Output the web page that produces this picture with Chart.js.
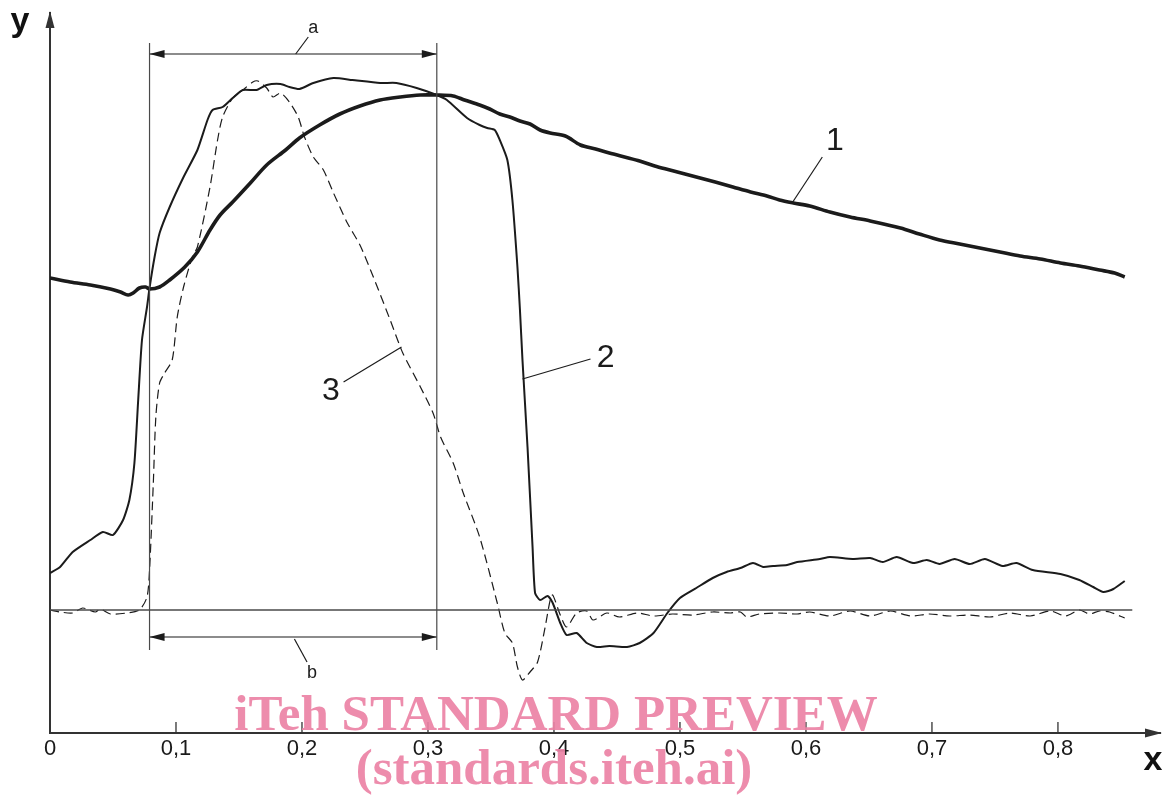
<!DOCTYPE html>
<html>
<head>
  <meta charset="UTF-8" />
  <title>Curves 1, 2, 3 with intervals a and b</title>
  <style>
    html, body { margin: 0; padding: 0; background: #fff; }
    #wrap { width: 1170px; height: 796px; }
  </style>
</head>
<body>
  <div id="wrap"><canvas id="chart"></canvas></div>
  <script src="https://cdn.jsdelivr.net/npm/chart.js"></script>
  <script>
    // x tick values and their printed labels (decimal comma)
    const xTicks = [0, 0.1, 0.2, 0.3, 0.4, 0.5, 0.6, 0.7, 0.8];
    const xTickLabels = ['0', '0,1', '0,2', '0,3', '0,4', '0,5', '0,6', '0,7', '0,8'];

    // curve 1 (thick solid)
    const curve1X = [0, 0.016, 0.032, 0.048, 0.056, 0.062, 0.066, 0.071, 0.076, 0.079, 0.087, 0.095, 0.107, 0.117, 0.127, 0.135, 0.145, 0.159, 0.172, 0.187, 0.198, 0.214, 0.230, 0.246, 0.262, 0.278, 0.294, 0.307, 0.320, 0.329, 0.341, 0.349, 0.357, 0.365, 0.373, 0.381, 0.389, 0.397, 0.409, 0.421, 0.433, 0.444, 0.456, 0.468, 0.480, 0.492, 0.504, 0.516, 0.528, 0.542, 0.556, 0.569, 0.579, 0.590, 0.603, 0.619, 0.635, 0.651, 0.675, 0.690, 0.706, 0.722, 0.738, 0.754, 0.770, 0.786, 0.802, 0.817, 0.833, 0.845, 0.853];
    const curve1Y = [3.32, 3.28, 3.25, 3.21, 3.18, 3.15, 3.17, 3.22, 3.23, 3.21, 3.23, 3.30, 3.43, 3.58, 3.80, 3.95, 4.08, 4.27, 4.45, 4.60, 4.72, 4.85, 4.96, 5.04, 5.10, 5.13, 5.15, 5.15, 5.14, 5.10, 5.05, 5.01, 4.96, 4.93, 4.89, 4.86, 4.80, 4.77, 4.74, 4.65, 4.61, 4.57, 4.53, 4.49, 4.44, 4.40, 4.36, 4.32, 4.28, 4.23, 4.18, 4.14, 4.10, 4.07, 4.04, 3.98, 3.93, 3.89, 3.82, 3.76, 3.70, 3.66, 3.62, 3.58, 3.54, 3.51, 3.47, 3.44, 3.40, 3.37, 3.33];

    // curve 2 (thin solid)
    const curve2X = [0, 0.008, 0.018, 0.032, 0.042, 0.050, 0.058, 0.063, 0.067, 0.070, 0.073, 0.077, 0.079, 0.083, 0.087, 0.095, 0.106, 0.117, 0.125, 0.129, 0.137, 0.145, 0.153, 0.164, 0.172, 0.183, 0.190, 0.198, 0.209, 0.225, 0.240, 0.262, 0.275, 0.291, 0.307, 0.315, 0.331, 0.341, 0.347, 0.353, 0.357, 0.363, 0.367, 0.371, 0.373, 0.375, 0.379, 0.383, 0.385, 0.389, 0.395, 0.399, 0.405, 0.410, 0.418, 0.426, 0.434, 0.444, 0.458, 0.468, 0.479, 0.490, 0.500, 0.513, 0.526, 0.537, 0.548, 0.558, 0.566, 0.574, 0.585, 0.593, 0.611, 0.619, 0.637, 0.651, 0.661, 0.672, 0.685, 0.696, 0.706, 0.718, 0.730, 0.742, 0.756, 0.767, 0.780, 0.802, 0.817, 0.828, 0.836, 0.844, 0.853];
    const curve2Y = [0.37, 0.43, 0.58, 0.70, 0.78, 0.75, 0.90, 1.10, 1.47, 2.10, 2.70, 3.03, 3.22, 3.53, 3.77, 4.03, 4.33, 4.60, 4.90, 5.00, 5.03, 5.12, 5.20, 5.20, 5.25, 5.26, 5.23, 5.21, 5.27, 5.32, 5.30, 5.27, 5.27, 5.22, 5.15, 5.10, 4.92, 4.85, 4.82, 4.80, 4.70, 4.50, 4.10, 3.43, 3.00, 2.50, 1.63, 0.63, 0.17, 0.10, 0.14, 0.07, -0.13, -0.25, -0.23, -0.33, -0.37, -0.36, -0.37, -0.33, -0.23, -0.03, 0.12, 0.22, 0.32, 0.38, 0.42, 0.47, 0.43, 0.44, 0.45, 0.48, 0.51, 0.53, 0.51, 0.52, 0.48, 0.53, 0.47, 0.50, 0.46, 0.51, 0.46, 0.51, 0.44, 0.47, 0.40, 0.36, 0.30, 0.23, 0.18, 0.21, 0.29];

    // curve 3 (dashed)
    const curve3X = [0, 0.008, 0.018, 0.026, 0.036, 0.040, 0.048, 0.061, 0.071, 0.077, 0.079, 0.082, 0.084, 0.087, 0.091, 0.097, 0.101, 0.106, 0.113, 0.117, 0.127, 0.133, 0.137, 0.145, 0.153, 0.161, 0.165, 0.172, 0.177, 0.183, 0.190, 0.197, 0.202, 0.209, 0.217, 0.225, 0.236, 0.246, 0.256, 0.270, 0.280, 0.294, 0.304, 0.310, 0.320, 0.328, 0.341, 0.355, 0.361, 0.367, 0.371, 0.375, 0.381, 0.387, 0.393, 0.397, 0.399, 0.405, 0.410, 0.418, 0.426, 0.431, 0.442, 0.452, 0.466, 0.479, 0.494, 0.510, 0.526, 0.540, 0.548, 0.553, 0.563, 0.579, 0.593, 0.603, 0.619, 0.635, 0.651, 0.667, 0.683, 0.698, 0.714, 0.730, 0.746, 0.762, 0.778, 0.794, 0.806, 0.817, 0.825, 0.833, 0.841, 0.853];
    const curve3Y = [0, -0.02, -0.03, 0.02, -0.02, 0.01, -0.04, -0.03, 0, 0.13, 0.40, 1.27, 1.93, 2.27, 2.37, 2.50, 2.93, 3.23, 3.53, 3.63, 4.23, 4.70, 4.93, 5.12, 5.20, 5.28, 5.29, 5.22, 5.13, 5.17, 5.08, 4.93, 4.73, 4.53, 4.40, 4.17, 3.87, 3.65, 3.35, 2.90, 2.57, 2.23, 1.97, 1.73, 1.47, 1.17, 0.73, 0.07, -0.23, -0.33, -0.57, -0.70, -0.62, -0.52, -0.17, 0.10, 0.15, -0.05, -0.17, -0.03, -0.01, -0.10, -0.03, -0.07, -0.03, -0.06, -0.04, -0.05, -0.02, -0.03, -0.02, -0.07, -0.04, -0.03, -0.04, -0.02, -0.06, -0.01, -0.06, -0.01, -0.06, -0.04, -0.06, -0.05, -0.07, -0.03, -0.06, -0.01, -0.06, 0, -0.04, -0.01, -0.02, -0.08];

    // reference line and the two marked intervals
    const zeroLineEnd = 0.859;
    const intervalStart = 0.079;
    const intervalEnd = 0.307;
    const markerTop = 5.67;
    const markerBottom = -0.40;
    const intervalA = 5.56;
    const intervalB = -0.27;

    const pts = (xs, ys) => xs.map((v, i) => ({ x: v, y: ys[i] }));
    const ink = '#1b1b1b';
    const guide = '#4a4a4a';

    const overlay = {
      id: 'overlay',
      afterDatasetsDraw(chart) {
        const { ctx, chartArea: a, scales: { x, y } } = chart;
        const X = v => x.getPixelForValue(v);
        const Y = v => y.getPixelForValue(v);
        ctx.save();

        // axis arrow heads
        ctx.fillStyle = '#333';
        ctx.beginPath();
        ctx.moveTo(a.left, a.top - 2);
        ctx.lineTo(a.left - 4.5, a.top + 15);
        ctx.lineTo(a.left + 4.5, a.top + 15);
        ctx.closePath();
        ctx.fill();
        ctx.beginPath();
        ctx.moveTo(a.right + 2, a.bottom);
        ctx.lineTo(a.right - 15, a.bottom - 4.5);
        ctx.lineTo(a.right - 15, a.bottom + 4.5);
        ctx.closePath();
        ctx.fill();

        // tick marks drawn inward
        ctx.strokeStyle = '#333';
        ctx.lineWidth = 1.3;
        xTicks.slice(1).forEach(v => {
          ctx.beginPath();
          ctx.moveTo(X(v), a.bottom);
          ctx.lineTo(X(v), a.bottom - 11);
          ctx.stroke();
        });

        // dimension arrows a and b
        ctx.fillStyle = ink;
        [intervalA, intervalB].forEach(lv => {
          const yy = Y(lv);
          const l = X(intervalStart), r = X(intervalEnd);
          ctx.beginPath();
          ctx.moveTo(l, yy); ctx.lineTo(l + 15, yy - 4); ctx.lineTo(l + 15, yy + 4); ctx.closePath(); ctx.fill();
          ctx.beginPath();
          ctx.moveTo(r, yy); ctx.lineTo(r - 15, yy - 4); ctx.lineTo(r - 15, yy + 4); ctx.closePath(); ctx.fill();
        });

        // leader lines and labels
        const callouts = [
          { t: 'a', from: [0.195, 5.56], to: [0.205, 5.73], at: [0.209, 5.77], size: 18 },
          { t: 'b', from: [0.194, -0.29], to: [0.204, -0.52], at: [0.208, -0.68], size: 18 },
          { t: '1', from: [0.589, 4.07], to: [0.613, 4.53], at: [0.623, 4.60], size: 32 },
          { t: '2', from: [0.375, 2.31], to: [0.429, 2.51], at: [0.441, 2.43], size: 32 },
          { t: '3', from: [0.279, 2.63], to: [0.233, 2.28], at: [0.223, 2.10], size: 32 }
        ];
        ctx.strokeStyle = ink;
        ctx.lineWidth = 1.2;
        ctx.textAlign = 'center';
        ctx.textBaseline = 'alphabetic';
        callouts.forEach(c => {
          ctx.beginPath();
          ctx.moveTo(X(c.from[0]), Y(c.from[1]));
          ctx.lineTo(X(c.to[0]), Y(c.to[1]));
          ctx.stroke();
          ctx.font = c.size + 'px "Liberation Sans", Arial, sans-serif';
          ctx.fillText(c.t, X(c.at[0]), Y(c.at[1]));
        });

        // axis letters
        ctx.font = 'bold 34px "Liberation Sans", Arial, sans-serif';
        ctx.fillStyle = '#111';
        ctx.fillText('y', 20, 31);
        ctx.fillText('x', 1153, 770);

        // watermark
        ctx.fillStyle = 'rgba(236, 130, 165, 0.92)';
        ctx.font = 'bold 51px "Liberation Serif", "Times New Roman", serif';
        ctx.fillText('iTeh STANDARD PREVIEW', 556, 730);
        ctx.fillText('(standards.iteh.ai)', 554, 784);
        ctx.restore();
      }
    };

    new Chart(document.getElementById('chart'), {
      type: 'scatter',
      data: {
        datasets: [
          { label: 'zero', data: [{ x: 0, y: 0 }, { x: zeroLineEnd, y: 0 }], borderColor: guide, borderWidth: 1.3 },
          { label: 'start', data: [{ x: intervalStart, y: markerTop }, { x: intervalStart, y: markerBottom }], borderColor: guide, borderWidth: 1.2 },
          { label: 'end', data: [{ x: intervalEnd, y: markerTop }, { x: intervalEnd, y: markerBottom }], borderColor: guide, borderWidth: 1.2 },
          { label: 'a', data: [{ x: intervalStart, y: intervalA }, { x: intervalEnd, y: intervalA }], borderColor: ink, borderWidth: 1.2 },
          { label: 'b', data: [{ x: intervalStart, y: intervalB }, { x: intervalEnd, y: intervalB }], borderColor: ink, borderWidth: 1.2 },
          { label: '3', data: pts(curve3X, curve3Y), borderColor: ink, borderWidth: 1.2, borderDash: [9, 5], tension: 0.25 },
          { label: '2', data: pts(curve2X, curve2Y), borderColor: ink, borderWidth: 2, tension: 0.2 },
          { label: '1', data: pts(curve1X, curve1Y), borderColor: ink, borderWidth: 3.6, tension: 0.3 }
        ]
      },
      options: {
        responsive: true,
        maintainAspectRatio: false,
        animation: false,
        showLine: true,
        elements: { point: { radius: 0, hoverRadius: 0 } },
        layout: { padding: { left: 50, right: 10, top: 13, bottom: 30.6 } },
        plugins: { legend: { display: false }, tooltip: { enabled: false } },
        scales: {
          x: {
            type: 'linear',
            min: 0,
            max: 0.881,
            afterBuildTicks: s => { s.ticks = xTicks.map(v => ({ value: v })); },
            grid: { display: false, drawTicks: false },
            border: { display: true, color: '#333', width: 2 },
            ticks: {
              padding: 3,
              color: '#1a1a1a',
              font: { family: '"Liberation Sans", Arial, sans-serif', size: 22 },
              callback: (v) => xTickLabels[xTicks.indexOf(v)] ?? ''
            }
          },
          y: {
            type: 'linear',
            min: -1.23,
            max: 5.97,
            grid: { display: false, drawTicks: false },
            border: { display: true, color: '#333', width: 2 },
            ticks: { display: false }
          }
        }
      },
      plugins: [overlay]
    });
  </script>
</body>
</html>
